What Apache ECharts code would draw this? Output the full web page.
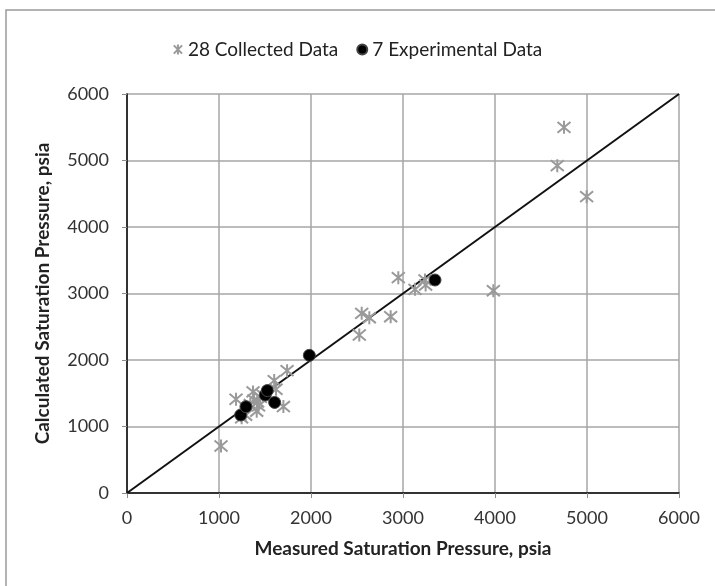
<!DOCTYPE html>
<html>
<head>
<meta charset="utf-8">
<script src="https://cdn.jsdelivr.net/npm/echarts@6/dist/echarts.min.js"></script>
<style>
  html, body { margin: 0; padding: 0; background: #fff; }
  #main { width: 715px; height: 586px; }
</style>
</head>
<body>
<div id="main"></div>
<script>
// measured vs calculated saturation pressure (psia)
var collectedData = [
  [1022, 707], [1185, 1410], [1246, 1130], [1290, 1170], [1340, 1330],
  [1370, 1520], [1380, 1400], [1410, 1230], [1420, 1370], [1430, 1310],
  [1450, 1440], [1480, 1470], [1600, 1690], [1620, 1560], [1700, 1300],
  [1740, 1840], [2525, 2376], [2551, 2702], [2634, 2636], [2866, 2651],
  [2949, 3238], [3130, 3063], [3239, 3203], [3246, 3128], [3982, 3042],
  [4677, 4922], [4750, 5499], [4996, 4456]
];
var experimentalData = [
  [1236, 1173], [1293, 1298], [1503, 1474], [1525, 1540], [1605, 1362],
  [1982, 2070], [3348, 3203]
];
var unityLine = [[0, 0], [6000, 6000]];
var seriesNames = ['28 Collected Data', '7 Experimental Data'];

var starPath = 'path://M0,0L10,10M10,0L0,10M5,-1L5,11';
var font = 'Lato, "Open Sans", sans-serif';

var myChart = echarts.init(document.getElementById('main'));

var option = {
  backgroundColor: '#fff',
  animation: false,
  textStyle: { fontFamily: font },
  graphic: [{
    type: 'rect',
    shape: { x: 6, y: 10, width: 730, height: 600 },
    style: { fill: 'none', stroke: '#9a9a9a', lineWidth: 1.5 },
    silent: true
  }],
  legend: {
    data: [
      { name: seriesNames[0], icon: starPath },
      { name: seriesNames[1], icon: 'circle' }
    ],
    top: 35,
    left: 'center',
    itemWidth: 10,
    itemHeight: 10,
    itemGap: 18,
    textStyle: { fontSize: 19, color: '#222', fontFamily: font }
  },
  grid: { left: 127, right: 36, top: 94, bottom: 93 },
  xAxis: [{
    type: 'value',
    min: 0, max: 6000, interval: 1000,
    name: 'Measured Saturation Pressure, psia',
    nameLocation: 'middle',
    nameGap: 46,
    nameMoveOverlap: false,
    nameTextStyle: { fontSize: 19, fontWeight: 'bold', color: '#222', fontFamily: font },
    axisLine: { lineStyle: { color: '#8c8c8c', width: 1.5 } },
    axisTick: { show: true, length: 5, lineStyle: { color: '#8c8c8c' } },
    axisLabel: { fontSize: 18, color: '#333', margin: 16, formatter: function (v) { return String(v); } },
    splitLine: { show: true, lineStyle: { color: '#a6a6a6', width: 1.5 } }
  }, {
    type: 'value', position: 'top',
    min: 0, max: 6000, interval: 1000,
    axisLine: { show: true, lineStyle: { color: '#111', width: 1.5 } },
    axisTick: { show: false }, axisLabel: { show: false }, splitLine: { show: false }
  }],
  yAxis: [{
    type: 'value',
    min: 0, max: 6000, interval: 1000,
    name: 'Calculated Saturation Pressure, psia',
    nameLocation: 'middle',
    nameGap: 75,
    nameMoveOverlap: false,
    nameTextStyle: { fontSize: 19, fontWeight: 'bold', color: '#222', fontFamily: font },
    axisLine: { show: true, lineStyle: { color: '#8c8c8c', width: 1.5 } },
    axisTick: { show: true, length: 5, lineStyle: { color: '#8c8c8c' } },
    axisLabel: { fontSize: 18, color: '#333', margin: 18, formatter: function (v) { return String(v); } },
    splitLine: { show: true, lineStyle: { color: '#a6a6a6', width: 1.5 } }
  }, {
    type: 'value', position: 'right',
    min: 0, max: 6000, interval: 1000,
    axisLine: { show: true, lineStyle: { color: '#111', width: 1.5 } },
    axisTick: { show: false }, axisLabel: { show: false }, splitLine: { show: false }
  }],
  series: [
    {
      type: 'line',
      data: unityLine,
      showSymbol: false,
      silent: true,
      lineStyle: { color: '#111', width: 2 },
      z: 3
    },
    {
      name: seriesNames[0],
      type: 'scatter',
      data: collectedData,
      symbol: starPath,
      symbolSize: 13,
      itemStyle: { color: 'transparent', borderColor: '#9a9a9a', borderWidth: 2, opacity: 1 },
      z: 4
    },
    {
      name: seriesNames[1],
      type: 'scatter',
      data: experimentalData,
      symbol: 'circle',
      symbolSize: 12,
      itemStyle: { color: '#000', borderColor: '#444', borderWidth: 1, opacity: 1 },
      z: 5
    }
  ]
};

myChart.setOption(option);
</script>
</body>
</html>
